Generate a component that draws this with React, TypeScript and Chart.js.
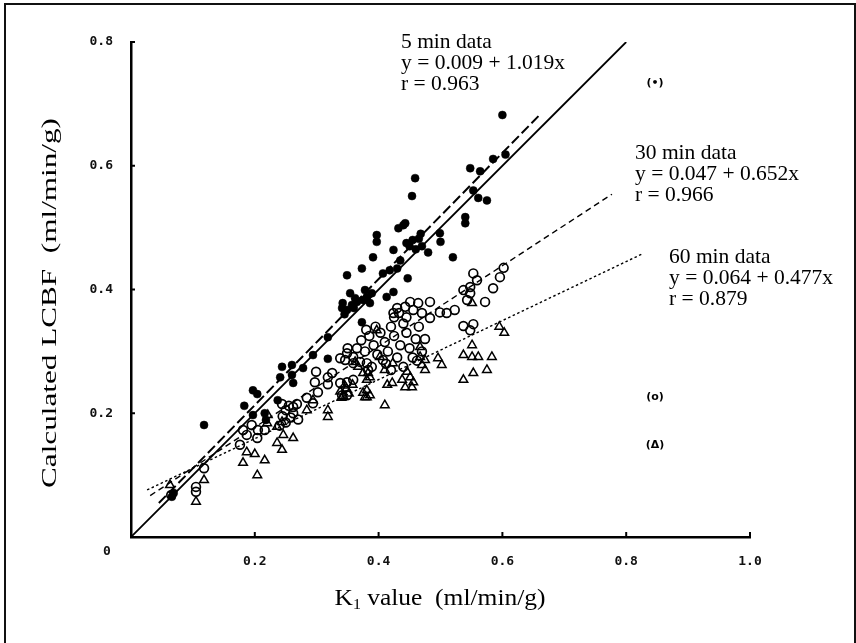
import React, { useEffect, useRef } from 'react';
import { Chart, registerables } from 'chart.js';

Chart.register(...registerables);

// ---- 5 min data (filled circles) ----
const k1_5 = [
  0.066, 0.069, 0.118, 0.183, 0.197, 0.204, 0.197, 0.216, 0.218, 0.237,
  0.244, 0.260, 0.241, 0.260, 0.262, 0.278, 0.294, 0.318, 0.318, 0.341,
  0.342, 0.349, 0.354, 0.362, 0.349, 0.373, 0.373, 0.375, 0.378, 0.381,
  0.386, 0.389, 0.391, 0.397, 0.397, 0.407, 0.413, 0.418, 0.424, 0.424,
  0.430, 0.432, 0.435, 0.440, 0.443, 0.447, 0.450, 0.455, 0.460, 0.465,
  0.468, 0.454, 0.459, 0.480, 0.499, 0.500, 0.520, 0.540, 0.540, 0.548,
  0.564, 0.553, 0.561, 0.575, 0.585, 0.600, 0.605, 0.360, 0.445, 0.470,
  0.345, 0.357, 0.365,
];
const lcbf_5 = [
  0.065, 0.071, 0.181, 0.212, 0.237, 0.231, 0.197, 0.200, 0.189, 0.221,
  0.275, 0.278, 0.258, 0.262, 0.249, 0.273, 0.294, 0.288, 0.323, 0.370,
  0.378, 0.367, 0.394, 0.386, 0.423, 0.434, 0.347, 0.383, 0.399, 0.388,
  0.378, 0.394, 0.452, 0.488, 0.477, 0.426, 0.388, 0.431, 0.396, 0.464,
  0.434, 0.499, 0.447, 0.504, 0.507, 0.418, 0.470, 0.480, 0.465, 0.482,
  0.490, 0.551, 0.580, 0.460, 0.491, 0.477, 0.452, 0.517, 0.507, 0.596,
  0.591, 0.560, 0.548, 0.544, 0.611, 0.682, 0.618, 0.370, 0.475, 0.470,
  0.360, 0.375, 0.380,
];

// ---- 30 min data (open circles) ----
const k1_30 = [
  0.065, 0.105, 0.105, 0.118, 0.176, 0.181, 0.187, 0.195, 0.205, 0.216,
  0.204, 0.240, 0.244, 0.250, 0.255, 0.262, 0.268, 0.245, 0.258, 0.270,
  0.250, 0.262, 0.284, 0.294, 0.299, 0.302, 0.318, 0.318, 0.325, 0.338,
  0.349, 0.359, 0.341, 0.349, 0.338, 0.349, 0.350, 0.359, 0.346, 0.359,
  0.370, 0.381, 0.389, 0.383, 0.407, 0.365, 0.372, 0.378, 0.385, 0.392,
  0.398, 0.403, 0.410, 0.415, 0.420, 0.425, 0.430, 0.435, 0.440, 0.445,
  0.450, 0.455, 0.460, 0.465, 0.470, 0.445, 0.425, 0.433, 0.395, 0.380,
  0.412, 0.420, 0.440, 0.462, 0.475, 0.424, 0.430, 0.443, 0.451, 0.464,
  0.456, 0.470, 0.483, 0.483, 0.499, 0.510, 0.523, 0.537, 0.553, 0.548,
  0.537, 0.543, 0.548, 0.548, 0.553, 0.559, 0.572, 0.585, 0.596, 0.602,
  0.297,
];
const lcbf_30 = [
  0.068, 0.073, 0.081, 0.111, 0.149, 0.173, 0.165, 0.181, 0.173, 0.173,
  0.160, 0.180, 0.215, 0.205, 0.212, 0.210, 0.215, 0.195, 0.193, 0.190,
  0.185, 0.200, 0.225, 0.216, 0.267, 0.234, 0.258, 0.247, 0.265, 0.249,
  0.250, 0.254, 0.229, 0.229, 0.289, 0.297, 0.305, 0.281, 0.286, 0.291,
  0.283, 0.281, 0.275, 0.270, 0.286, 0.305, 0.318, 0.300, 0.325, 0.310,
  0.295, 0.330, 0.315, 0.300, 0.340, 0.325, 0.290, 0.310, 0.345, 0.330,
  0.305, 0.290, 0.320, 0.340, 0.300, 0.355, 0.355, 0.362, 0.340, 0.335,
  0.280, 0.270, 0.275, 0.285, 0.320, 0.362, 0.370, 0.372, 0.380, 0.378,
  0.367, 0.362, 0.380, 0.354, 0.363, 0.362, 0.367, 0.341, 0.344, 0.334,
  0.399, 0.383, 0.394, 0.404, 0.426, 0.415, 0.380, 0.402, 0.420, 0.435,
  0.250,
];

// ---- 60 min data (open triangles) ----
const k1_60 = [
  0.063, 0.105, 0.118, 0.181, 0.187, 0.200, 0.204, 0.216, 0.220, 0.221,
  0.236, 0.244, 0.236, 0.244, 0.246, 0.262, 0.284, 0.294, 0.318, 0.318,
  0.338, 0.345, 0.343, 0.352, 0.340, 0.348, 0.358, 0.375, 0.381, 0.386,
  0.378, 0.381, 0.410, 0.414, 0.422, 0.362, 0.367, 0.375, 0.383, 0.386,
  0.381, 0.402, 0.397, 0.410, 0.423, 0.438, 0.443, 0.446, 0.451, 0.454,
  0.456, 0.467, 0.470, 0.475, 0.475, 0.467, 0.496, 0.502, 0.537, 0.553,
  0.575, 0.537, 0.551, 0.561, 0.583, 0.551, 0.551, 0.595, 0.603,
];
const lcbf_60 = [
  0.084, 0.057, 0.092, 0.120, 0.137, 0.134, 0.100, 0.124, 0.184, 0.197,
  0.178, 0.186, 0.152, 0.141, 0.165, 0.160, 0.205, 0.221, 0.194, 0.205,
  0.235, 0.245, 0.228, 0.232, 0.225, 0.240, 0.246, 0.233, 0.226, 0.229,
  0.226, 0.237, 0.213, 0.246, 0.249, 0.283, 0.275, 0.265, 0.265, 0.258,
  0.254, 0.291, 0.334, 0.270, 0.281, 0.254, 0.242, 0.267, 0.258, 0.242,
  0.250, 0.291, 0.278, 0.286, 0.270, 0.307, 0.289, 0.278, 0.254, 0.265,
  0.270, 0.294, 0.291, 0.291, 0.291, 0.310, 0.378, 0.340, 0.330,
];

// ---- lines: identity and regression fits (end points) ----
const identityX = [0, 0.8];
const identityY = [0, 0.8];
const fit5X = [0.045, 0.66];
const fit5Y = [0.055, 0.682];
const fit30X = [0.031, 0.777];
const fit30Y = [0.067, 0.554];
const fit60X = [0.026, 0.827];
const fit60Y = [0.076, 0.458];

// ---- axes ----
const xTickValues = [0, 0.2, 0.4, 0.6, 0.8, 1.0];
const yTickValues = [0, 0.2, 0.4, 0.6, 0.8];

// ---- texts ----
const note5 = ['5 min data', 'y = 0.009 + 1.019x', 'r = 0.963'];
const note30 = ['30 min data', 'y = 0.047 + 0.652x', 'r = 0.966'];
const note60 = ['60 min data', 'y = 0.064 + 0.477x', 'r = 0.879'];
const xTitleMain = 'K';
const xTitleSub = '1';
const xTitleRest = ' value  (ml/min/g)';
const yTitle = 'Calculated LCBF  (ml/min/g)';

const pts = (xs: number[], ys: number[]) => xs.map((x, i) => ({ x, y: ys[i] }));

const SERIF = '"Liberation Serif", "Times New Roman", serif';
const MONO = '"DejaVu Sans Mono", monospace';

const overlayPlugin = {
  id: 'overlay',
  afterDraw(chart: any) {
    const ctx = chart.ctx as CanvasRenderingContext2D;
    const xs = chart.scales.x;
    const ys = chart.scales.y;
    ctx.save();
    // frame
    ctx.strokeStyle = '#111';
    ctx.lineWidth = 2;
    ctx.strokeRect(5, 4, 850, 680);

    // inward tick marks
    ctx.lineWidth = 2;
    ctx.strokeStyle = '#000';
    xTickValues.forEach((v) => {
      if (v === 0) return;
      const px = xs.getPixelForValue(v);
      ctx.beginPath();
      ctx.moveTo(px, ys.bottom);
      ctx.lineTo(px, ys.bottom - 5);
      ctx.stroke();
    });
    yTickValues.forEach((v) => {
      if (v === 0) return;
      const py = ys.getPixelForValue(v);
      ctx.beginPath();
      ctx.moveTo(xs.left, py);
      ctx.lineTo(xs.left + 4, py);
      ctx.stroke();
    });

    // origin label
    ctx.fillStyle = '#111';
    ctx.font = `bold 13px ${MONO}`;
    ctx.textAlign = 'center';
    ctx.textBaseline = 'middle';
    ctx.fillText('0', 107, 552);

    // annotations
    ctx.fillStyle = '#000';
    ctx.font = `21.5px ${SERIF}`;
    ctx.textAlign = 'left';
    ctx.textBaseline = 'middle';
    const drawNote = (lines: string[], x: number, y0: number) => {
      lines.forEach((t, i) => ctx.fillText(t, x, y0 + i * 21));
    };
    drawNote(note5, 401, 42);
    drawNote(note30, 635, 153);
    drawNote(note60, 669, 257);

    // symbol keys
    ctx.font = `bold 11px "DejaVu Sans", sans-serif`;
    ctx.textAlign = 'center';
    ctx.fillText('(•)', 655, 83);
    ctx.fillText('(o)', 655, 397);
    ctx.fillText('(Δ)', 655, 445);

    // x title with subscript, fitted to measured width
    ctx.textBaseline = 'alphabetic';
    ctx.textAlign = 'left';
    const mainFont = `24px ${SERIF}`;
    const subFont = `15px ${SERIF}`;
    ctx.font = mainFont;
    const wK = ctx.measureText(xTitleMain).width;
    const wRest = ctx.measureText(xTitleRest).width;
    ctx.font = subFont;
    const wSub = ctx.measureText(xTitleSub).width;
    const total = wK + wSub + wRest;
    const targetW = 211;
    ctx.save();
    ctx.translate(440 - targetW / 2, 605);
    ctx.scale(targetW / total, 1);
    let sx = 0;
    ctx.font = mainFont;
    ctx.fillText(xTitleMain, sx, 0);
    sx += wK;
    ctx.font = subFont;
    ctx.fillText(xTitleSub, sx, 4);
    sx += wSub;
    ctx.font = mainFont;
    ctx.fillText(xTitleRest, sx, 0);
    ctx.restore();

    // y title (rotated, fitted along reading direction)
    ctx.save();
    ctx.translate(50, 303);
    ctx.rotate(-Math.PI / 2);
    ctx.font = `22px ${SERIF}`;
    const wy = ctx.measureText(yTitle).width;
    ctx.scale(370 / wy, 1);
    ctx.textAlign = 'center';
    ctx.textBaseline = 'middle';
    ctx.fillText(yTitle, 0, 0);
    ctx.restore();

    ctx.restore();
  },
};

export default function App() {
  const ref = useRef<HTMLCanvasElement | null>(null);

  useEffect(() => {
    if (!ref.current) return;
    const lineDs = (xs: number[], ys: number[], dash: number[], width: number) => ({
      type: 'scatter' as const,
      data: pts(xs, ys),
      showLine: true,
      borderColor: '#000',
      borderWidth: width,
      borderDash: dash,
      pointRadius: 0,
      fill: false,
    });
    const chart = new Chart(ref.current, {
      type: 'scatter',
      data: {
        datasets: [
          {
            label: '5 min',
            data: pts(k1_5, lcbf_5),
            pointStyle: 'circle',
            pointRadius: 4,
            backgroundColor: '#000',
            borderColor: '#000',
            borderWidth: 0.5,
          },
          {
            label: '30 min',
            data: pts(k1_30, lcbf_30),
            pointStyle: 'circle',
            pointRadius: 4.4,
            backgroundColor: 'rgba(255,255,255,0)',
            borderColor: '#000',
            borderWidth: 1.7,
          },
          {
            label: '60 min',
            data: pts(k1_60, lcbf_60),
            pointStyle: 'triangle',
            pointRadius: 5,
            backgroundColor: 'rgba(255,255,255,0)',
            borderColor: '#000',
            borderWidth: 1.5,
          },
          { label: 'identity', ...lineDs(identityX, identityY, [], 1.8) },
          { label: 'fit5', ...lineDs(fit5X, fit5Y, [10, 4], 2) },
          { label: 'fit30', ...lineDs(fit30X, fit30Y, [6, 4], 1.4) },
          { label: 'fit60', ...lineDs(fit60X, fit60Y, [2.5, 2.5], 1.4) },
        ] as any,
      },
      options: {
        animation: false,
        responsive: false,
        devicePixelRatio: 1,
        layout: { padding: { top: 42, right: 106, bottom: 0, left: 0 } },
        plugins: {
          legend: { display: false },
          tooltip: { enabled: false },
        },
        scales: {
          x: {
            type: 'linear',
            min: 0,
            max: 1,
            afterFit: (s: any) => { s.height = 106; },
            afterBuildTicks: (s: any) => { s.ticks = xTickValues.map((v) => ({ value: v })); },
            grid: { display: false },
            border: { display: true, color: '#000', width: 2.5 },
            ticks: {
              padding: 9,
              color: '#111',
              font: { family: MONO, size: 13, weight: 'bold' },
              callback: (v: any) => (Number(v) === 0 ? '' : Number(v).toFixed(1)),
              maxRotation: 0,
            },
          },
          y: {
            type: 'linear',
            min: 0,
            max: 0.8,
            afterFit: (s: any) => { s.width = 131; },
            afterBuildTicks: (s: any) => { s.ticks = yTickValues.map((v) => ({ value: v })); },
            grid: { display: false },
            border: { display: true, color: '#000', width: 2.5 },
            ticks: {
              padding: 10,
              color: '#111',
              font: { family: MONO, size: 13, weight: 'bold' },
              callback: (v: any) => (Number(v) === 0 ? '' : Number(v).toFixed(1)),
            },
          },
        },
      } as any,
      plugins: [overlayPlugin],
    });
    return () => chart.destroy();
  }, []);

  return (
    <div style={{ position: 'absolute', left: 0, top: 0, width: 856, height: 643, background: '#fff' }}>
      <canvas ref={ref} width={856} height={643} style={{ display: 'block' }} />
    </div>
  );
}
